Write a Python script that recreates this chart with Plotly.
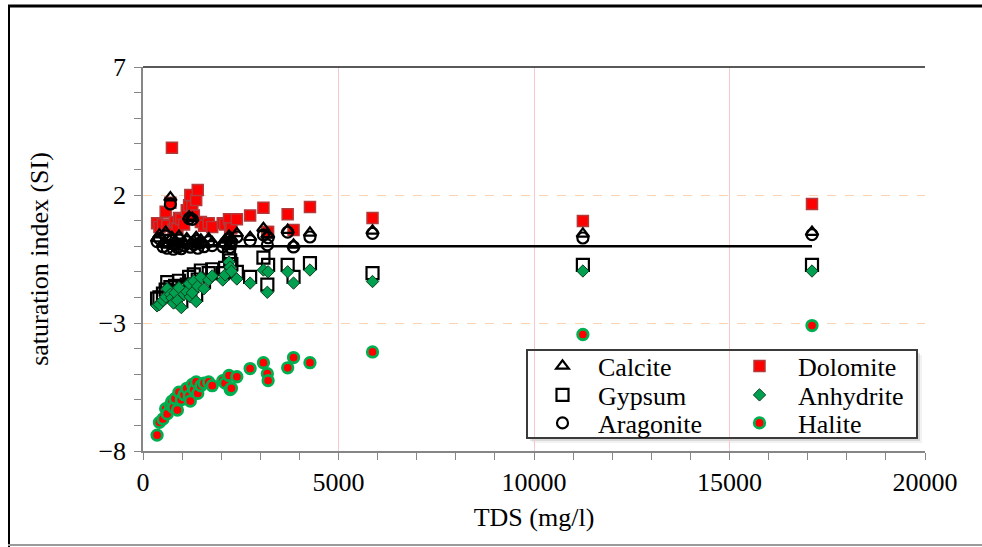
import plotly.graph_objects as go

# Total dissolved solids of each water sample (mg/l)
tds = [360, 420, 510, 580, 620, 700, 740, 780, 820, 880,
       920, 980, 1050, 1120, 1180, 1210, 1260, 1300, 1360, 1400,
       1480, 1560, 1680, 1770, 2040, 2100, 2200, 2230, 2260, 2400,
       2740, 3080, 3180, 3200, 3700, 3850, 4270, 5870, 11250, 17110]

# Saturation indices per mineral, one value per sample
calcite = [0.30, 0.45, 0.10, 0.55, 0.05, 1.90, 0.35, 0.00, 0.20, 0.10,
           0.40, 0.05, 0.15, 0.30, 1.15, 0.10, 1.10, 0.20, 0.35, 0.05,
           0.25, 0.10, 0.30, 0.15, 0.10, 0.25, 0.40, 0.10, 0.30, 0.50,
           0.35, 0.70, 0.45, 0.45, 0.63, 0.05, 0.52, 0.60, 0.48, 0.55]
aragonite = [0.18, 0.30, -0.02, 0.40, -0.08, 1.65, 0.22, -0.12, 0.06, -0.05,
             0.25, -0.10, 0.02, 0.18, 1.08, -0.04, 1.05, 0.06, 0.22, -0.08,
             0.12, -0.02, 0.18, 0.02, -0.02, 0.12, 0.28, -0.05, 0.15, 0.36,
             0.22, 0.44, 0.05, 0.33, 0.55, -0.03, 0.36, 0.50, 0.32, 0.45]
dolomite = [0.90, 0.75, 0.85, 1.35, 0.80, 1.70, 3.85, 0.65, 0.95, 0.70,
            1.10, 1.05, 0.85, 1.40, 1.60, 2.00, 1.55, 1.20, 1.80, 2.20,
            0.95, 0.80, 0.90, 0.75, 0.90, 0.85, 1.05, 0.70, 0.70, 1.05,
            1.20, 1.50, 0.55, 0.55, 1.25, 0.63, 1.53, 1.10, 0.98, 1.65]
gypsum = [-2.05, -2.00, -1.85, -1.70, -1.40, -1.60, -1.75, -1.95, -1.55, -1.85,
          -1.35, -2.15, -1.60, -1.50, -1.20, -1.70, -1.55, -1.10, -1.90, -1.30,
          -0.95, -1.40, -1.05, -0.90, -1.05, -0.85, -0.35, -0.55, -0.70, -1.00,
          -1.20, -0.45, -1.50, -0.73, -0.73, -1.20, -0.66, -1.05, -0.73, -0.73]
anhydrite = [-2.33, -2.28, -2.12, -1.98, -1.66, -1.88, -2.02, -2.22, -1.82, -2.12,
             -1.62, -2.40, -1.88, -1.78, -1.46, -1.98, -1.82, -1.36, -2.16, -1.56,
             -1.22, -1.66, -1.32, -1.16, -1.32, -1.12, -0.62, -0.82, -0.98, -1.28,
             -1.44, -0.93, -1.80, -1.00, -1.00, -1.44, -0.93, -1.38, -0.97, -0.97]
halite = [-7.38, -6.88, -6.75, -6.35, -6.55, -6.20, -6.05, -6.30, -5.95, -6.40,
          -5.70, -6.00, -5.80, -5.55, -5.85, -6.05, -5.40, -5.60, -5.30, -5.75,
          -5.45, -5.35, -5.30, -5.45, -5.25, -5.35, -5.05, -5.60, -5.55, -5.10,
          -4.78, -4.55, -4.98, -5.25, -4.75, -4.35, -4.55, -4.13, -3.45, -3.10]

# Equilibrium reference (SI = 0) across the sampled TDS span
equilibrium_si = [0, 0]

W, H = 982, 547
ML, MR, MT, MB = 143, 57, 67, 96
PW, PH = W - ML - MR, H - MT - MB
FONT = "Liberation Serif, Times New Roman, serif"


def fx(p):
    """pixel x -> paper x"""
    return (p - ML) / PW


def fy(p):
    """pixel y -> paper y"""
    return (H - MB - p) / PH


fig = go.Figure()

fig.add_trace(go.Scatter(
    x=[tds[0], tds[-1]], y=equilibrium_si, mode="lines",
    line=dict(color="black", width=2.5), showlegend=False, hoverinfo="skip"))

fig.add_trace(go.Scatter(
    x=tds, y=dolomite, mode="markers", name="Dolomite", legend="legend4",
    marker=dict(symbol="square", size=11, color="#FF0000",
                line=dict(color="#B23A3A", width=1.5))))
fig.add_trace(go.Scatter(
    x=tds, y=halite, mode="markers", name="Halite", legend="legend6",
    marker=dict(symbol="circle", size=10.5, color="#FF0000",
                line=dict(color="#00B050", width=2.8))))
fig.add_trace(go.Scatter(
    x=tds, y=aragonite, mode="markers", name="Aragonite", legend="legend3",
    marker=dict(symbol="circle-open", size=11, color="black",
                line=dict(color="black", width=2.2))))
fig.add_trace(go.Scatter(
    x=tds, y=calcite, mode="markers", name="Calcite", legend="legend",
    marker=dict(symbol="triangle-up-open", size=11, color="black",
                line=dict(color="black", width=2.2))))
fig.add_trace(go.Scatter(
    x=tds, y=gypsum, mode="markers", name="Gypsum", legend="legend2",
    marker=dict(symbol="square-open", size=12, color="black",
                line=dict(color="black", width=2.2))))
fig.add_trace(go.Scatter(
    x=tds, y=anhydrite, mode="markers", name="Anhydrite", legend="legend5",
    marker=dict(symbol="diamond", size=9.5, color="#00A050",
                line=dict(color="#0B4020", width=1))))

# one single-entry legend per slot of the 2 x 3 key
legend_style = dict(xanchor="left", yanchor="middle", bgcolor="rgba(0,0,0,0)",
                    borderwidth=0, itemclick=False, itemdoubleclick=False,
                    font=dict(family=FONT, size=26, color="black"))
col_x = [fx(527), fx(721)]
col_iw = [61, 67]
row_y = [fy(366), fy(395), fy(423)]
legends = {}
names = ["legend", "legend2", "legend3", "legend4", "legend5", "legend6"]
for i, nm in enumerate(names):
    c = i // 3
    legends[nm] = dict(legend_style, x=col_x[c], itemwidth=col_iw[c],
                       y=row_y[i % 3])

axis_col = "#868686"
box = (527, 917, 350, 438)  # left, right, top, bottom (px)
shadow = []
for d, a in ((1, 0.16), (3, 0.10), (5, 0.05)):
    # strip under the key
    shadow.append(dict(type="rect", xref="paper", yref="paper",
                       x0=fx(box[0] + d), x1=fx(box[1] + d),
                       y0=fy(box[3] + d), y1=fy(box[3]),
                       line=dict(width=0), fillcolor=f"rgba(0,0,0,{a})",
                       layer="below"))
    # strip to the right of the key
    shadow.append(dict(type="rect", xref="paper", yref="paper",
                       x0=fx(box[1]), x1=fx(box[1] + d),
                       y0=fy(box[3]), y1=fy(box[2] + d),
                       line=dict(width=0), fillcolor=f"rgba(0,0,0,{a})",
                       layer="below"))

shapes = shadow + [
    dict(type="rect", xref="paper", yref="paper",
         x0=fx(box[0]), x1=fx(box[1]), y0=fy(box[3]), y1=fy(box[2]),
         line=dict(color="#3A3A3A", width=2), fillcolor="rgba(0,0,0,0)"),
    # top edge of the plot area
    dict(type="line", xref="paper", yref="paper", x0=0, x1=1, y0=1, y1=1,
         line=dict(color="#222222", width=1.5)),
    # outer frame
    dict(type="line", xref="paper", yref="paper", x0=fx(8), x1=fx(982),
         y0=fy(6), y1=fy(6), line=dict(color="black", width=3)),
    dict(type="line", xref="paper", yref="paper", x0=fx(9), x1=fx(9),
         y0=fy(5), y1=fy(547), line=dict(color="black", width=2)),
    dict(type="line", xref="paper", yref="paper", x0=fx(8), x1=fx(982),
         y0=fy(545), y1=fy(545), line=dict(color="#9A9A9A", width=2)),
]

fig.update_layout(
    width=W, height=H,
    margin=dict(l=ML, r=MR, t=MT, b=MB, pad=0),
    paper_bgcolor="white", plot_bgcolor="white",
    font=dict(family=FONT, size=26, color="black"),
    showlegend=True,
    shapes=shapes,
    **legends,
    xaxis=dict(
        range=[0, 20000], tick0=0, dtick=5000, tickformat="d",
        showline=True, linecolor=axis_col, linewidth=1.5,
        ticks="outside", ticklen=7, tickwidth=1.2, tickcolor=axis_col,
        minor=dict(dtick=1000, ticks="outside", ticklen=7, tickwidth=1.2,
                   tickcolor=axis_col, showgrid=False),
        showgrid=True, gridcolor="#F5C9C9", gridwidth=1,
        zeroline=False, ticklabelstandoff=0,
        tickfont=dict(family=FONT, size=26, color="black"),
        title=dict(text="TDS (mg/l)", standoff=12,
                   font=dict(family=FONT, size=26, color="black")),
    ),
    yaxis=dict(
        range=[-8, 7], tick0=-8, dtick=5,
        showline=True, linecolor=axis_col, linewidth=1.5,
        ticks="outside", ticklen=7, tickwidth=1.2, tickcolor=axis_col,
        minor=dict(dtick=1, ticks="outside", ticklen=7, tickwidth=1.2,
                   tickcolor=axis_col, showgrid=False),
        showgrid=True, gridcolor="#FAD2B4", gridwidth=1, griddash="dash",
        zeroline=False, ticklabelstandoff=3,
        tickfont=dict(family=FONT, size=26, color="black"),
        title=dict(text="saturation index (SI)", standoff=42,
                   font=dict(family=FONT, size=26, color="black")),
    ),
)

fig.write_html("out.html")
